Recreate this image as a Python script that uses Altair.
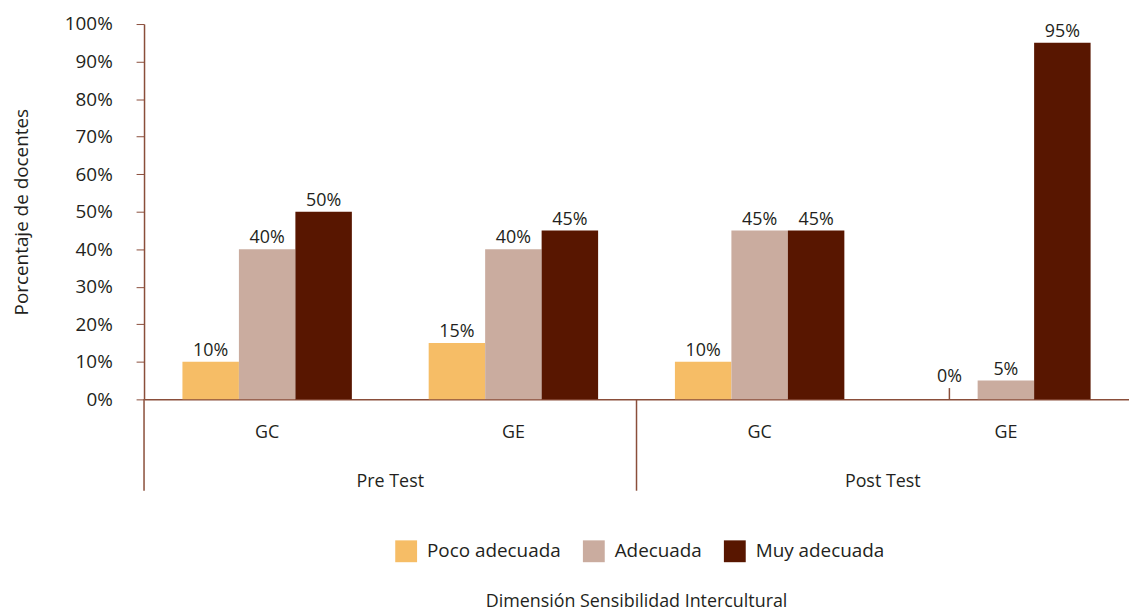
import altair as alt
import pandas as pd

categorias = ["Pre Test GC", "Pre Test GE", "Post Test GC", "Post Test GE"]
series = ["Poco adecuada", "Adecuada", "Muy adecuada"]
poco = [10, 15, 10, 0]
adecuada = [40, 40, 45, 5]
muy = [50, 45, 45, 95]
colores = ["#F6BD66", "#CAAC9F", "#581600"]
grupos = ["Pre Test", "Post Test"]
grupo_inicio = ["Pre Test GC", "Post Test GC"]
ticks_y = list(range(0, 101, 10))

rows = []
for i, c in enumerate(categorias):
    for s, vals in zip(series, [poco, adecuada, muy]):
        rows.append({"cat": c, "serie": s, "valor": vals[i]})
df = pd.DataFrame(rows)

FONT = "Open Sans"
TXT = "#231F20"
BROWN = "#8A4E3A"
W, H = 992, 378

xscale = alt.Scale(domain=categorias, paddingInner=0, paddingOuter=0)
offscale = alt.Scale(domain=series, paddingOuter=0.68, paddingInner=0)
yscale = alt.Scale(domain=[0, 100])
yaxis = alt.Axis(title="Porcentaje de docentes", values=ticks_y,
                 labelExpr="datum.value + '%'", labelFontSize=19, labelColor=TXT,
                 labelFont=FONT, titleFont=FONT, titleFontSize=19,
                 titleFontWeight="normal", titleColor=TXT, titlePadding=33,
                 tickColor=BROWN, tickSize=8, domainColor=BROWN, domainWidth=1.5,
                 grid=False, labelPadding=24, labelOverlap=False)
x_enc = alt.X("cat:N", scale=xscale, sort=categorias,
              axis=alt.Axis(title=None, labelExpr="split(datum.label, ' ')[2]",
                            ticks=False, labelPadding=24, labelFontSize=18,
                            labelColor=TXT, labelFont=FONT, labelAngle=0,
                            domainColor=BROWN, domainWidth=1.5))

bars = alt.Chart(df).mark_bar().encode(
    x=x_enc,
    xOffset=alt.XOffset("serie:N", sort=series, scale=offscale),
    y=alt.Y("valor:Q", scale=yscale, axis=yaxis),
    color=alt.Color("serie:N", sort=series, scale=alt.Scale(domain=series, range=colores),
                    legend=alt.Legend(title=None, orient="none", direction="horizontal",
                                      legendX=253, legendY=520, symbolType="square",
                                      symbolSize=484, symbolStrokeWidth=0, labelFontSize=19,
                                      labelFont=FONT, labelColor=TXT, columnPadding=22,
                                      labelOffset=10, symbolOpacity=1)),
)

labels = alt.Chart(df).transform_calculate(
    ypos="datum.valor == 0 ? 3 : datum.valor",
    label="datum.valor + '%'",
).mark_text(baseline="bottom", dy=-2, fontSize=18, font=FONT, color=TXT).encode(
    x=alt.X("cat:N", scale=xscale, sort=categorias),
    xOffset=alt.XOffset("serie:N", sort=series, scale=offscale),
    y=alt.Y("ypos:Q", scale=yscale, axis=yaxis),
    text=alt.Text("label:N"),
)

zero_lead = alt.Chart(df).transform_filter("datum.valor == 0").mark_rule(
    color=BROWN, strokeWidth=1.5).encode(
    x=alt.X("cat:N", scale=xscale, sort=categorias),
    xOffset=alt.XOffset("serie:N", sort=series, scale=offscale),
    y=alt.Y("valor:Q", scale=yscale, axis=yaxis),
    y2=alt.datum(3),
)

gdf = pd.DataFrame({"cat": grupo_inicio, "grupo": grupos})
group_text = alt.Chart(gdf).mark_text(fontSize=18, font=FONT, color=TXT, baseline="middle").encode(
    x=alt.X("cat:N", scale=xscale, sort=categorias, bandPosition=1),
    y=alt.value(461),
    text="grupo:N",
)
seps = alt.Chart(gdf).mark_rule(color=BROWN, strokeWidth=1.5).encode(
    x=alt.X("cat:N", scale=xscale, sort=categorias, bandPosition=0),
    y=alt.value(H),
    y2=alt.value(470),
)

chart = alt.layer(bars, labels, zero_lead, group_text, seps).properties(
    width=W, height=H,
    padding={"left": 4, "top": 5, "right": 0, "bottom": 0},
    title=alt.Title("Dimensión Sensibilidad Intercultural", orient="bottom", anchor="middle",
                    fontSize=18, font=FONT, color=TXT, fontWeight="normal", offset=31),
).configure_view(stroke=None).configure_axis(labelOverlap=False)

chart.save("out.html", embed_options={"renderer": "svg", "actions": False})
